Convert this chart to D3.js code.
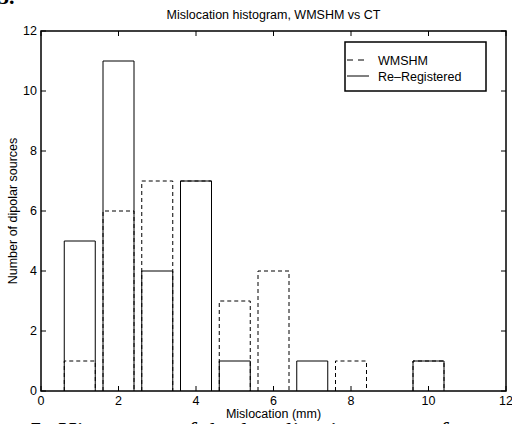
<!DOCTYPE html>
<html>
<head>
<meta charset="UTF-8" />
<script src="https://d3js.org/d3.v7.min.js"></script>
<style>
  body { margin: 0; background: #fff; }
  svg { display: block; font-family: "Liberation Sans", Arial, sans-serif; }
</style>
</head>
<body>
<svg width="512" height="424"></svg>
<script>
const bins = [1, 2, 3, 4, 5, 6, 7, 8, 9, 10];
const wmshm = [1, 6, 7, 7, 3, 4, 0, 1, 0, 1];
const reRegistered = [5, 11, 4, 7, 1, 0, 1, 0, 0, 1];
const xTicks = [0, 2, 4, 6, 8, 10, 12];
const yTicks = [0, 2, 4, 6, 8, 10, 12];

const svg = d3.select("svg");
const m = { left: 41, right: 506, top: 31, bottom: 391 };

const x = d3.scaleLinear().domain([0, 12]).range([m.left, m.right]);
const y = d3.scaleLinear().domain([0, 12]).range([m.bottom, m.top]);
const bw = 0.8;
const fs = 12.5;

// caption fragments from the page around the figure
svg.append("text").attr("x", -2).attr("y", 4)
  .attr("font-family", "Liberation Serif, serif").attr("font-size", 22).attr("font-weight", "bold")
  .text("5.");
svg.append("text").attr("x", 28).attr("y", 440)
  .attr("font-family", "Liberation Serif, serif").attr("font-size", 26).attr("font-style", "italic")
  .text("5: Histogram of the localization errors for");

// bars: dashed first, solid over
function bars(vals, dash) {
  svg.append("g").selectAll("path")
    .data(bins.map((b, i) => ({ b, v: vals[i] })).filter(d => d.v > 0))
    .join("path")
    .attr("d", d => `M${x(d.b - bw/2)},${y(0)}V${y(d.v)}H${x(d.b + bw/2)}V${y(0)}`)
    .attr("fill", "none")
    .attr("stroke", "#000")
    .attr("stroke-width", 1)
    .attr("stroke-dasharray", dash);
}
bars(wmshm, "4,3");
bars(reRegistered, null);

// axes box with inward ticks
const ax = svg.append("g");
ax.append("rect").attr("x", m.left).attr("y", m.top)
  .attr("width", m.right - m.left).attr("height", m.bottom - m.top)
  .attr("fill", "none").attr("stroke", "#000").attr("stroke-width", 1.5);

const tl = 5;
xTicks.forEach(t => {
  ax.append("line").attr("x1", x(t)).attr("x2", x(t)).attr("y1", m.bottom).attr("y2", m.bottom - tl).attr("stroke", "#000");
  ax.append("line").attr("x1", x(t)).attr("x2", x(t)).attr("y1", m.top).attr("y2", m.top + tl).attr("stroke", "#000");
  ax.append("text").attr("x", x(t)).attr("y", m.bottom + 14).attr("text-anchor", "middle")
    .attr("font-size", fs).text(t);
});
yTicks.forEach(t => {
  ax.append("line").attr("x1", m.left).attr("x2", m.left + tl).attr("y1", y(t)).attr("y2", y(t)).attr("stroke", "#000");
  ax.append("line").attr("x1", m.right).attr("x2", m.right - tl).attr("y1", y(t)).attr("y2", y(t)).attr("stroke", "#000");
  ax.append("text").attr("x", m.left - 4).attr("y", y(t) + 4).attr("text-anchor", "end")
    .attr("font-size", fs).text(t);
});

svg.append("text").attr("x", (m.left + m.right) / 2).attr("y", 19).attr("text-anchor", "middle")
  .attr("font-size", fs).text("Mislocation histogram, WMSHM vs CT");
svg.append("text").attr("x", (m.left + m.right) / 2).attr("y", 418).attr("text-anchor", "middle")
  .attr("font-size", fs).text("Mislocation (mm)");
svg.append("text").attr("transform", `translate(17,${(m.top + m.bottom) / 2}) rotate(-90)`)
  .attr("text-anchor", "middle").attr("font-size", fs).text("Number of dipolar sources");

// legend
const lg = svg.append("g");
lg.append("rect").attr("x", 345).attr("y", 42).attr("width", 141).attr("height", 49)
  .attr("fill", "#fff").attr("stroke", "#000").attr("stroke-width", 1.5);
const items = [["WMSHM", "6,5"], ["Re\u2013Registered", null]];
items.forEach((it, i) => {
  const yy = 60 + i * 16;
  lg.append("line").attr("x1", 347).attr("x2", 369).attr("y1", yy).attr("y2", yy)
    .attr("stroke", "#000").attr("stroke-dasharray", it[1]);
  lg.append("text").attr("x", 378).attr("y", yy + 4.5).attr("font-size", fs).text(it[0]);
});
</script>
</body>
</html>
